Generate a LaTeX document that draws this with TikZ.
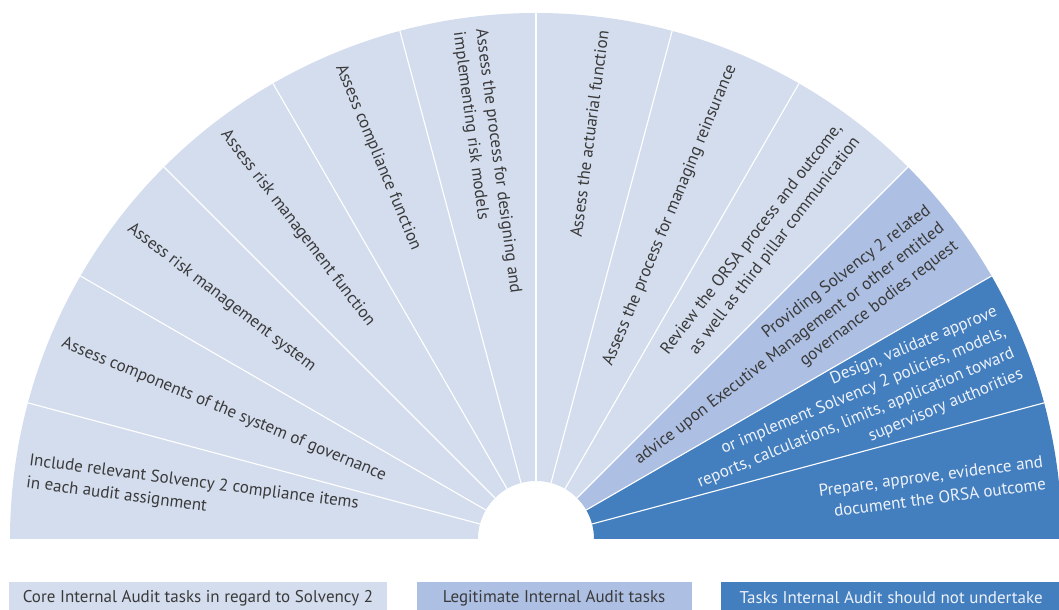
\documentclass[tikz,border=0pt]{standalone}
\usepackage{fontspec}
\setmainfont{PT Sans}
\usetikzlibrary{positioning}

\definecolor{corefill}{HTML}{D4DDEE}
\definecolor{legitfill}{HTML}{ADBFE2}
\definecolor{notfill}{HTML}{437EBF}
\definecolor{tasktext}{HTML}{3A3A3A}
\definecolor{notext}{HTML}{EEF2F9}

\tikzset{
  task/.style={inner sep=0pt, text=tasktext, font=\fontsize{12.1}{16}\selectfont},
  lefttask/.style={task, anchor=west, align=left},
  righttask/.style={task, anchor=east, align=right},
  legend/.style={minimum height=0.8cm, inner sep=0pt, text=tasktext,
    font=\fontsize{12.1}{14}\selectfont},
  sep/.style={draw=white, line width=0.8pt},
}

\begin{document}
\begin{tikzpicture}
  \useasboundingbox (0,0) rectangle (26.475,15.25);
  \clip (0,0) rectangle (26.475,15.25);
  \coordinate (O) at (13.4,1.775);

  % the fan, twelve slices of 15 degrees
  \foreach \a/\col in {0/notfill,15/notfill,30/legitfill,45/corefill,60/corefill,
      75/corefill,90/corefill,105/corefill,120/corefill,135/corefill,150/corefill,165/corefill}
    \fill[\col] ([shift={(\a:1.45)}]O) -- ([shift={(\a:13.15)}]O)
      arc[start angle=\a, delta angle=15, radius=13.15]
      -- ([shift={(\a+15:1.45)}]O)
      arc[start angle=\a+15, delta angle=-15, radius=1.45] -- cycle;
  \foreach \a in {15,30,...,165}
    \draw[sep] ([shift={(\a:1.45)}]O) -- ([shift={(\a:13.15)}]O);

  % core tasks
  \node[lefttask, rotate=-7.5] (include) at ([shift={(172.5:12.82)}]O)
    {Include relevant Solvency 2 compliance items\\in each audit assignment};
  \node[lefttask, rotate=-22.5] (components) at ([shift={(157.5:12.82)}]O)
    {Assess components of the system of governance};
  \node[lefttask, rotate=-37.5] (risksys) at ([shift={(142.5:12.82)}]O)
    {Assess risk management system};
  \node[lefttask, rotate=-52.5] (riskfun) at ([shift={(127.5:12.82)}]O)
    {Assess risk management function};
  \node[lefttask, rotate=-67.5] (compliance) at ([shift={(112.5:12.82)}]O)
    {Assess compliance function};
  \node[lefttask, rotate=-82.5] (models) at ([shift={(97.5:12.82)}]O)
    {Assess the process for designing and\\implementing risk models};
  \node[righttask, rotate=82.5] (actuarial) at ([shift={(82.5:12.82)}]O)
    {Assess the actuarial function};
  \node[righttask, rotate=67.5] (reins) at ([shift={(67.5:12.82)}]O)
    {Assess the process for managing reinsurance};
  \node[righttask, rotate=52.5] (orsa) at ([shift={(52.5:12.82)}]O)
    {Review the ORSA process and outcome,\\as well as third pillar communication};

  % legitimate tasks
  \node[righttask, rotate=37.5] (advice) at ([shift={(37.5:12.82)}]O)
    {Providing Solvency 2 related\\advice upon Executive Management or other entitled\\governance bodies request};

  % tasks to keep away from
  \node[righttask, rotate=22.5, text=notext] (design) at ([shift={(22.5:12.82)}]O)
    {Design, validate approve\\or implement Solvency 2 policies, models,\\reports, calculations, limits, application toward\\supervisory authorities};
  \node[righttask, rotate=7.5, text=notext] (prepare) at ([shift={(7.5:12.82)}]O)
    {Prepare, approve, evidence and\\document the ORSA outcome};

  % legend
  \node[legend, fill=corefill, minimum width=9.45cm] (core) at (4.95,0.3)
    {Core Internal Audit tasks in regard to Solvency 2};
  \node[legend, fill=legitfill, minimum width=6.875cm, right=0.725cm of core] (legit)
    {Legitimate Internal Audit tasks};
  \node[legend, fill=notfill, minimum width=8.5cm, text=notext, right=0.725cm of legit] (nottasks)
    {Tasks Internal Audit should not undertake};
\end{tikzpicture}
\end{document}
